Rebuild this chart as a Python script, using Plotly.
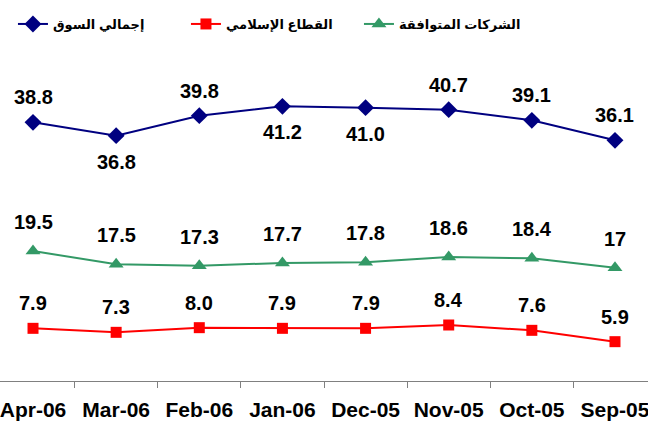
import plotly.graph_objects as go

categories = ["Apr-06", "Mar-06", "Feb-06", "Jan-06", "Dec-05", "Nov-05", "Oct-05", "Sep-05"]

total_market = [38.8, 36.8, 39.8, 41.2, 41.0, 40.7, 39.1, 36.1]
total_labels = ["38.8", "36.8", "39.8", "41.2", "41.0", "40.7", "39.1", "36.1"]

islamic_sector = [7.9, 7.3, 8.0, 7.9, 7.9, 8.4, 7.6, 5.9]
islamic_labels = ["7.9", "7.3", "8.0", "7.9", "7.9", "8.4", "7.6", "5.9"]

compliant = [19.5, 17.5, 17.3, 17.7, 17.8, 18.6, 18.4, 17.0]
compliant_labels = ["19.5", "17.5", "17.3", "17.7", "17.8", "18.6", "18.4", "17"]

series_names = ["إجمالي السوق", "القطاع الإسلامي", "الشركات المتوافقة"]

# label placement for the total-market series (style, not data)
total_label_side = ["above", "below", "above", "below", "below", "above", "above", "above"]

FONT = "Liberation Sans, Arial, DejaVu Sans, sans-serif"

fig = go.Figure()
fig.add_trace(go.Scatter(
    x=categories, y=total_market, name=series_names[0], mode="lines+markers",
    line=dict(color="#000080", width=2),
    marker=dict(symbol="diamond", size=13, color="#000080"),
))
fig.add_trace(go.Scatter(
    x=categories, y=islamic_sector, name=series_names[1], mode="lines+markers",
    line=dict(color="#FF0000", width=2),
    marker=dict(symbol="square", size=11, color="#FF0000"),
))
fig.add_trace(go.Scatter(
    x=categories, y=compliant, name=series_names[2], mode="lines+markers",
    line=dict(color="#339966", width=2),
    marker=dict(symbol="triangle-up", size=13, color="#339966"),
))

annotations = []
lab_font = dict(family=FONT, size=20, color="#000000", weight="bold")
for c, v, t, side in zip(categories, total_market, total_labels, total_label_side):
    annotations.append(dict(x=c, y=v, text=t, showarrow=False, font=lab_font,
                            yshift=25 if side == "above" else -26))
for c, v, t in zip(categories, islamic_sector, islamic_labels):
    annotations.append(dict(x=c, y=v, text=t, showarrow=False, font=lab_font, yshift=25))
for c, v, t in zip(categories, compliant, compliant_labels):
    annotations.append(dict(x=c, y=v, text=t, showarrow=False, font=lab_font, yshift=29))

fig.update_layout(
    width=648, height=425,
    margin=dict(l=0, r=0, t=81, b=44, autoexpand=False),
    paper_bgcolor="white", plot_bgcolor="white",
    showlegend=True,
    legend=dict(orientation="h", x=0.02, xanchor="left", y=1.19, yanchor="middle",
                font=dict(family=FONT, size=13, color="#000000", weight="bold"),
                traceorder="normal", itemwidth=30, entrywidth=128, entrywidthmode="pixels"),
    annotations=annotations,
    xaxis=dict(range=[-0.397, 7.397], showline=True, linecolor="#808080", linewidth=1,
               ticks="outside", tickson="boundaries", ticklen=6, tickcolor="#808080",
               showgrid=False, zeroline=False, automargin=False, ticklabelstandoff=10,
               tickfont=dict(family=FONT, size=21, color="#000000", weight="bold")),
    yaxis=dict(range=[0, 45], visible=False, showgrid=False, zeroline=False),
)

fig.write_html("out.html", config={"displayModeBar": False},
               post_script="document.body.style.margin='0px';")
